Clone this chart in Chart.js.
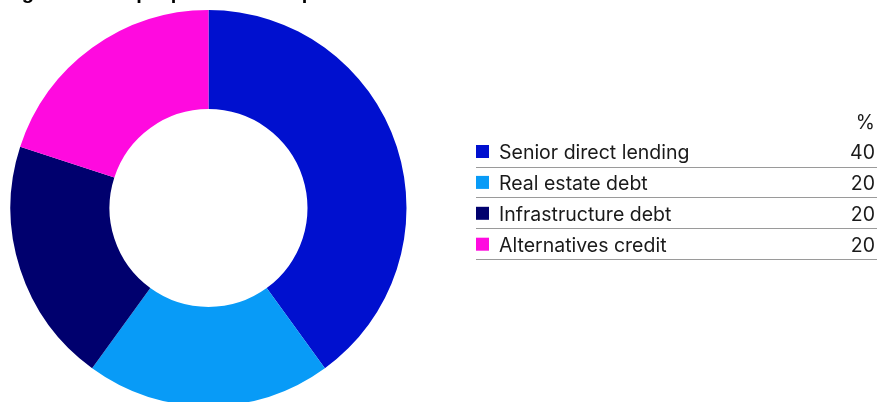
<!DOCTYPE html>
<html>
<head>
<meta charset="utf-8">
<script src="https://cdn.jsdelivr.net/npm/chart.js@4/dist/chart.umd.min.js"></script>
<style>
  html, body { margin: 0; padding: 0; background: #fff; }
  #wrap { width: 877px; height: 402px; overflow: hidden; position: relative; }
  canvas { display: block; }
</style>
</head>
<body>
<div id="wrap"><canvas id="alloc" width="877" height="412"></canvas></div>
<script>
const title = 'Figure 3: Sample private credit portfolio';
const categories = ['Senior direct lending', 'Real estate debt', 'Infrastructure debt', 'Alternatives credit'];
const allocation = [40, 20, 20, 20];
const sliceColours = ['#0010CF', '#089BF7', '#00006E', '#FF0ADF'];
const unitLabel = '%';

const FONT = '"Inter", "Roboto", sans-serif';

// title sits mostly above the top edge of the page
const titlePlugin = {
  id: 'titleText',
  afterDraw(chart) {
    const ctx = chart.ctx;
    ctx.save();
    ctx.font = 'bold 20px "Liberation Sans", Arial, sans-serif';
    ctx.fillStyle = '#000';
    ctx.textBaseline = 'alphabetic';
    ctx.fillText(title, 4, -1);
    ctx.restore();
  }
};

// legend drawn as a small table: swatch, label, value, rule underneath
const tablePlugin = {
  id: 'legendTable',
  afterDraw(chart) {
    const ctx = chart.ctx;
    const ds = chart.data.datasets[0];
    const left = 476, right = 875, ruleEnd = 877;
    const firstBase = 159, pitch = 30.9;
    ctx.save();
    ctx.font = '19.5px ' + FONT;
    ctx.fillStyle = '#1a1a1a';
    ctx.textBaseline = 'alphabetic';
    ctx.textAlign = 'right';
    ctx.fillText(unitLabel, right, 129);
    chart.data.labels.forEach((label, i) => {
      const base = firstBase + i * pitch;
      ctx.fillStyle = ds.backgroundColor[i];
      ctx.fillRect(left, base - 14, 13, 13);
      ctx.fillStyle = '#1a1a1a';
      ctx.textAlign = 'left';
      ctx.fillText(label, 499, base);
      ctx.textAlign = 'right';
      ctx.fillText(String(ds.data[i]), right, base);
      ctx.strokeStyle = '#9a9a9a';
      ctx.lineWidth = 1.2;
      const y = Math.round(base + 7.5) + 0.5;
      ctx.beginPath();
      ctx.moveTo(left, y);
      ctx.lineTo(ruleEnd, y);
      ctx.stroke();
    });
    ctx.restore();
  }
};

new Chart(document.getElementById('alloc'), {
  type: 'doughnut',
  data: {
    labels: categories,
    datasets: [{
      data: allocation,
      backgroundColor: sliceColours,
      borderWidth: 0,
      hoverOffset: 0
    }]
  },
  options: {
    responsive: false,
    animation: false,
    events: [],
    cutout: '50%',
    layout: { padding: { left: 10.5, right: 470.5, top: 10, bottom: 6 } },
    plugins: {
      legend: { display: false },
      tooltip: { enabled: false }
    }
  },
  plugins: [titlePlugin, tablePlugin]
});
</script>
</body>
</html>
